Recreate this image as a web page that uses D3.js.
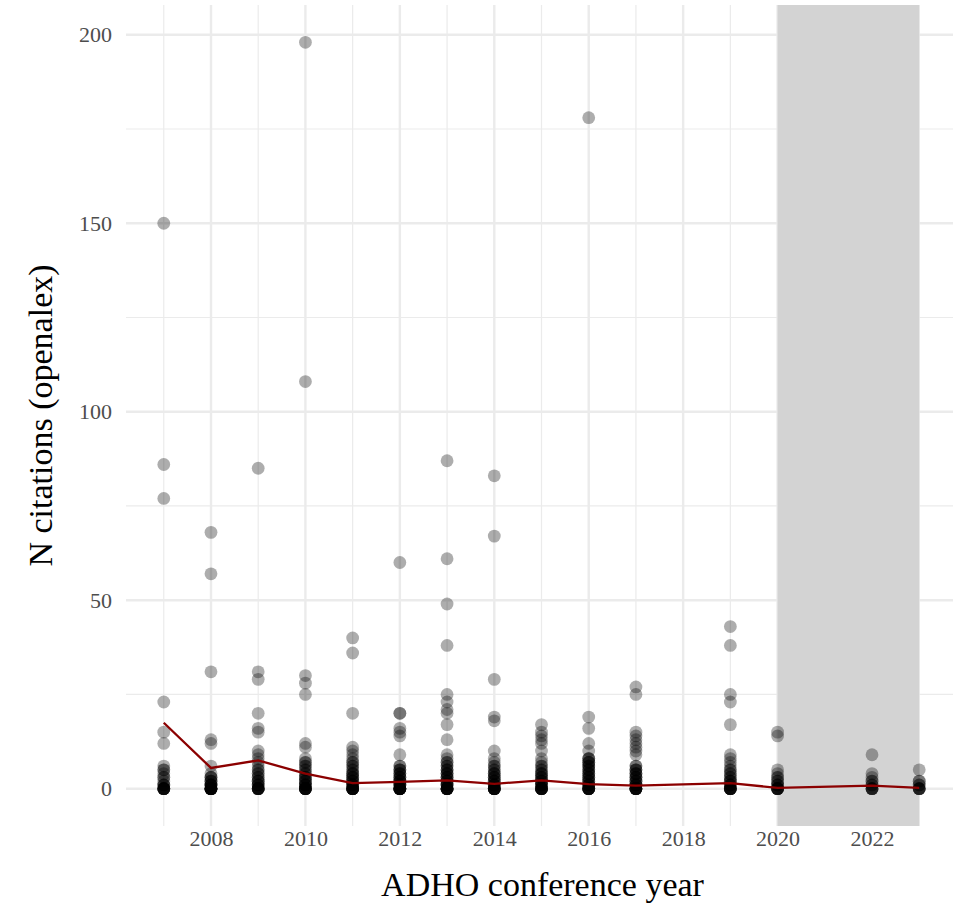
<!DOCTYPE html>
<html>
<head>
<meta charset="utf-8">
<script src="https://cdn.jsdelivr.net/npm/d3@7"></script>
<style>
  body { margin: 0; background: #fff; overflow: hidden; }
  text { font-family: "Liberation Serif", serif; }
</style>
</head>
<body>
<script>
const [W, H] = [953, 907];
const M = { top: 5, right: -4, bottom: 81, left: 126 };

// conference years and the citation counts of the papers in each year
const years = [2007, 2008, 2009, 2010, 2011, 2012, 2013, 2014, 2015, 2016, 2017, 2019, 2020, 2022, 2023];
const citations = [
    [150, 86, 77, 23, 15, 12, 6, 5, 5, 4, 3, 3, 2, 1, 1, 1, 0, 0, 0, 0, 0, 0, 0, 0],
    [68, 57, 31, 13, 12, 6, 4, 3, 3, 3, 2, 2, 2, 1, 1, 1, 1, 1, 0, 0, 0, 0, 0, 0, 0, 0, 0, 0, 0, 0],
    [85, 31, 29, 20, 16, 15, 10, 9, 8, 7, 6, 5, 5, 4, 4, 3, 3, 2, 2, 2, 1, 1, 1, 0, 0, 0, 0, 0, 0, 0, 0],
    [198, 108, 30, 28, 25, 12, 11, 8, 7, 7, 6, 6, 5, 5, 4, 4, 3, 3, 3, 2, 2, 2, 1, 1, 1, 1, 0, 0, 0, 0, 0, 0, 0, 0, 0],
    [40, 36, 20, 11, 10, 9, 8, 7, 7, 6, 6, 5, 5, 4, 4, 4, 3, 3, 3, 2, 2, 2, 1, 1, 1, 1, 0, 0, 0, 0, 0, 0, 0, 0, 0, 0],
    [60, 20, 20, 16, 15, 14, 9, 6, 6, 5, 5, 5, 4, 4, 4, 3, 3, 3, 2, 2, 2, 2, 1, 1, 1, 1, 0, 0, 0, 0, 0, 0, 0, 0, 0, 0, 0],
    [87, 61, 49, 38, 25, 23, 21, 20, 17, 13, 9, 8, 7, 7, 6, 6, 5, 5, 5, 4, 4, 4, 3, 3, 3, 2, 2, 2, 1, 1, 1, 1, 0, 0, 0, 0, 0, 0, 0, 0, 0, 0],
    [83, 67, 29, 19, 18, 10, 8, 7, 6, 6, 5, 5, 4, 4, 4, 3, 3, 3, 2, 2, 2, 1, 1, 1, 1, 0, 0, 0, 0, 0, 0, 0, 0, 0, 0],
    [17, 15, 14, 13, 12, 10, 8, 7, 6, 6, 5, 5, 4, 4, 4, 3, 3, 3, 2, 2, 2, 1, 1, 1, 1, 0, 0, 0, 0, 0, 0, 0, 0, 0],
    [178, 19, 16, 12, 10, 8, 8, 8, 7, 7, 7, 6, 6, 6, 5, 5, 5, 4, 4, 4, 3, 3, 3, 2, 2, 2, 1, 1, 1, 1, 0, 0, 0, 0, 0, 0, 0, 0, 0],
    [27, 25, 15, 14, 13, 12, 11, 10, 9, 6, 6, 5, 5, 5, 4, 4, 4, 3, 3, 3, 2, 2, 2, 1, 1, 1, 1, 0, 0, 0, 0, 0, 0, 0, 0, 0],
    [43, 38, 25, 23, 17, 9, 8, 7, 6, 5, 5, 4, 4, 3, 3, 2, 2, 2, 1, 1, 1, 0, 0, 0, 0, 0, 0, 0, 0],
    [15, 14, 5, 4, 3, 3, 2, 2, 1, 1, 1, 0, 0, 0, 0, 0, 0, 0],
    [9, 4, 3, 2, 2, 1, 1, 0, 0, 0, 0, 0],
    [5, 2, 2, 1, 1, 0, 0, 0, 0, 0]
];
// yearly mean shown by the red line
const meanCitations = [17.5, 5.5, 7.5, 4.0, 1.5, 1.8, 2.2, 1.3, 2.2, 1.2, 0.8, 1.5, 0.2, 0.8, 0.2];

const yTicks = [0, 50, 100, 150, 200];
const yMinor = [25, 75, 125, 175];
const xTicks = [2008, 2010, 2012, 2014, 2016, 2018, 2020, 2022];
const xMinor = [2007, 2009, 2011, 2013, 2015, 2017, 2019, 2021, 2023];
const shadedYears = [2020, 2023];

function main() {
    const svg = d3.select('body').append('svg')
        .attr('width', W).attr('height', H)
        .style('display', 'block');

    const x = d3.scaleLinear().domain([2006.2, 2023.8]).range([M.left, W - M.right]);
    const y = d3.scaleLinear().domain([-9.9, 207.9]).range([H - M.bottom, M.top]);

    const grid = svg.append('g');
    // minor grid
    grid.selectAll('.vmin').data(xMinor).enter().append('line')
        .attr('x1', d => x(d)).attr('x2', d => x(d))
        .attr('y1', y.range()[0]).attr('y2', y.range()[1])
        .attr('stroke', '#ebebeb').attr('stroke-width', 1.2);
    grid.selectAll('.hmin').data(yMinor).enter().append('line')
        .attr('x1', x.range()[0]).attr('x2', x.range()[1])
        .attr('y1', d => y(d)).attr('y2', d => y(d))
        .attr('stroke', '#ebebeb').attr('stroke-width', 1.2);
    // major grid
    grid.selectAll('.vmaj').data(xTicks).enter().append('line')
        .attr('x1', d => x(d)).attr('x2', d => x(d))
        .attr('y1', y.range()[0]).attr('y2', y.range()[1])
        .attr('stroke', '#ebebeb').attr('stroke-width', 2.4);
    grid.selectAll('.hmaj').data(yTicks).enter().append('line')
        .attr('x1', x.range()[0]).attr('x2', x.range()[1])
        .attr('y1', d => y(d)).attr('y2', d => y(d))
        .attr('stroke', '#ebebeb').attr('stroke-width', 2.4);

    // shaded period
    svg.append('rect')
        .attr('x', x(shadedYears[0]))
        .attr('width', x(shadedYears[1]) - x(shadedYears[0]))
        .attr('y', y.range()[1])
        .attr('height', y.range()[0] - y.range()[1])
        .attr('fill', '#d3d3d3');

    // points
    const pts = [];
    years.forEach((yr, i) => citations[i].forEach(c => pts.push({ year: yr, n: c })));
    svg.append('g').selectAll('circle')
        .data(pts).enter().append('circle')
        .attr('cx', d => x(d.year))
        .attr('cy', d => y(d.n))
        .attr('r', 6.4)
        .attr('fill', 'black')
        .attr('fill-opacity', 0.32);

    // mean line
    const line = d3.line().x((d, i) => x(years[i])).y(d => y(d));
    svg.append('path')
        .attr('d', line(meanCitations))
        .attr('fill', 'none')
        .attr('stroke', '#8b0000')
        .attr('stroke-width', 2.3);

    // axes
    const xAxis = d3.axisBottom(x).tickValues(xTicks).tickFormat(d => '' + d).tickSize(0).tickPadding(4);
    const gx = svg.append('g')
        .attr('transform', 'translate(0,' + (H - M.bottom) + ')')
        .call(xAxis);
    gx.select('.domain').remove();
    gx.selectAll('text').style('font-size', '22px').attr('fill', '#4d4d4d')
        .style('font-family', '"Liberation Serif", serif');

    const yAxis = d3.axisLeft(y).tickValues(yTicks).tickSize(0).tickPadding(14);
    const gy = svg.append('g')
        .attr('transform', 'translate(' + M.left + ',0)')
        .call(yAxis);
    gy.select('.domain').remove();
    gy.selectAll('text').style('font-size', '22px').attr('fill', '#4d4d4d')
        .style('font-family', '"Liberation Serif", serif');

    // titles
    svg.append('text')
        .attr('x', (M.left + 953) / 2 + 3)
        .attr('y', 896)
        .style('text-anchor', 'middle')
        .style('font-size', '34px')
        .text('ADHO conference year');

    svg.append('text')
        .attr('transform', 'rotate(-90)')
        .attr('x', -(M.top + H - M.bottom) / 2)
        .attr('y', 52)
        .style('text-anchor', 'middle')
        .style('font-size', '34px')
        .text('N citations (openalex)');
}

document.addEventListener('DOMContentLoaded', main);
</script>
</body>
</html>
